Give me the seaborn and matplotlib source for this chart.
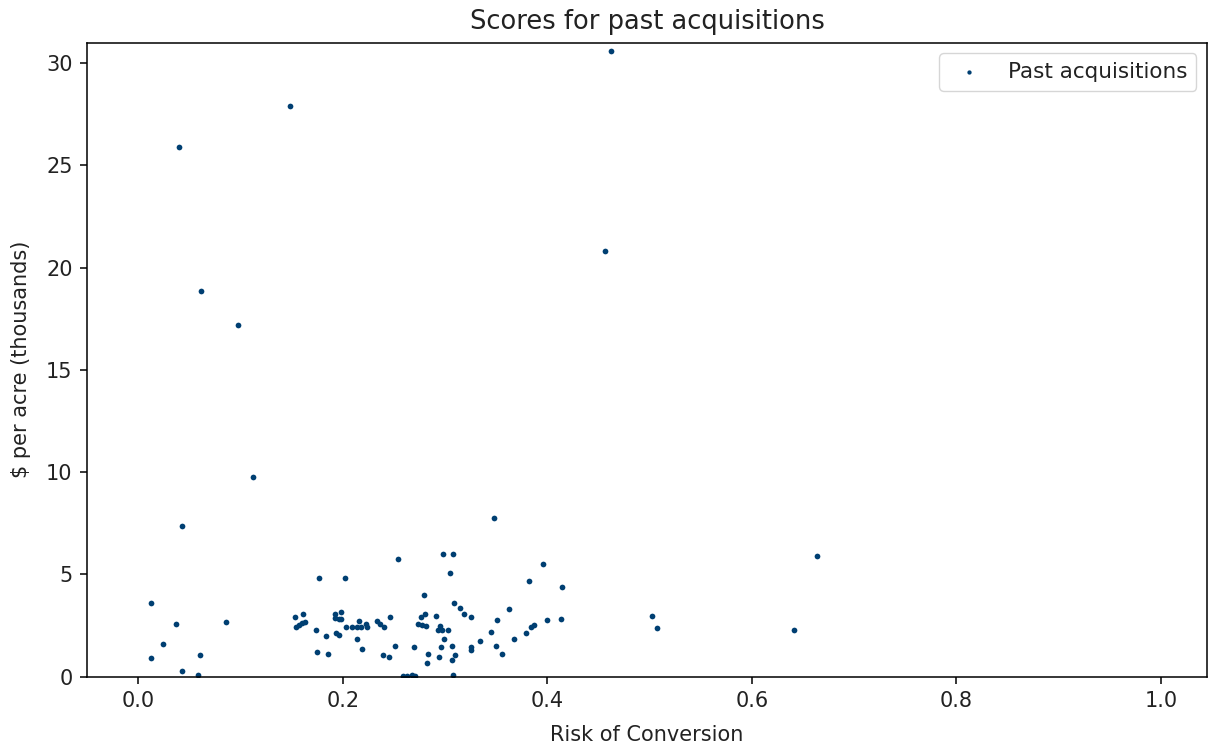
import matplotlib
matplotlib.use("Agg")
import matplotlib.pyplot as plt
import seaborn as sns
import pandas as pd

risk = [0.462, 0.148, 0.040, 0.456, 0.061, 0.098, 0.112, 0.043, 0.348, 0.664,
        0.254, 0.298, 0.308, 0.396, 0.305, 0.177, 0.202, 0.382, 0.414, 0.279,
        0.012, 0.309, 0.315, 0.363, 0.161, 0.192, 0.198, 0.319, 0.280, 0.153,
        0.276, 0.291, 0.246, 0.325, 0.192, 0.196, 0.198, 0.413, 0.233, 0.216,
        0.086, 0.163, 0.160, 0.037, 0.223, 0.274, 0.236, 0.157, 0.277, 0.387,
        0.351, 0.400, 0.281, 0.295, 0.154, 0.203, 0.209, 0.214, 0.218, 0.224,
        0.240, 0.384, 0.174, 0.293, 0.297, 0.303, 0.345, 0.379, 0.193, 0.196,
        0.184, 0.214, 0.299, 0.367, 0.334, 0.350, 0.307, 0.251, 0.270, 0.296,
        0.325, 0.219, 0.325, 0.024, 0.175, 0.186, 0.283, 0.356, 0.060, 0.239,
        0.310, 0.245, 0.294, 0.012, 0.307, 0.282, 0.043, 0.058, 0.263, 0.268,
        0.271, 0.259, 0.308, 0.502, 0.507, 0.641]

price_k = [30.60, 27.91, 25.91, 20.81, 18.87, 17.18, 9.77, 7.38, 7.77, 5.91,
           5.75, 5.99, 5.99, 5.52, 5.07, 4.84, 4.82, 4.68, 4.36, 3.99,
           3.60, 3.60, 3.36, 3.29, 3.06, 3.06, 3.16, 3.04, 3.06, 2.92,
           2.90, 2.98, 2.90, 2.90, 2.87, 2.82, 2.82, 2.83, 2.70, 2.72,
           2.67, 2.65, 2.60, 2.59, 2.59, 2.59, 2.57, 2.54, 2.54, 2.53,
           2.75, 2.75, 2.48, 2.49, 2.44, 2.44, 2.44, 2.44, 2.44, 2.44,
           2.44, 2.43, 2.28, 2.30, 2.30, 2.30, 2.20, 2.13, 2.13, 2.04,
           1.97, 1.84, 1.82, 1.82, 1.74, 1.51, 1.51, 1.51, 1.43, 1.43,
           1.43, 1.37, 1.28, 1.60, 1.19, 1.12, 1.12, 1.12, 1.06, 1.06,
           1.04, 0.98, 0.98, 0.89, 0.82, 0.67, 0.26, 0.06, 0.05, 0.08,
           0.05, 0.01, 0.06, 2.97, 2.36, 2.28]

series_label = "Past acquisitions"
title = "Scores for past acquisitions"
xlabel = "Risk of Conversion"
ylabel = "$ per acre (thousands)"

df = pd.DataFrame({"risk": risk, "price": price_k, "group": series_label})

plt.rcParams['font.family'] = ['DejaVu Sans']
plt.rcParams['text.color'] = '#222222'
plt.rcParams['axes.labelcolor'] = '#222222'
plt.rcParams['xtick.labelcolor'] = '#222222'
plt.rcParams['ytick.labelcolor'] = '#222222'
fig, ax = plt.subplots(figsize=(12.1, 7.46), dpi=100)
fig.subplots_adjust(left=0.072, right=0.9975, top=0.943, bottom=0.093)

sns.scatterplot(data=df, x="risk", y="price", ax=ax, color="#003f72",
                s=17, linewidth=0, label=series_label)

ax.set_xlim(-0.05, 1.045)
ax.set_ylim(0, 31)
ax.set_title(title, fontsize=18.5, pad=10)
ax.set_xlabel(xlabel, fontsize=15, labelpad=10)
ax.set_ylabel(ylabel, fontsize=15, labelpad=11)
ax.tick_params(labelsize=15, length=5, width=1.1, pad=5.5)
for sp in ax.spines.values():
    sp.set_linewidth(1.1)
ax.legend(loc="upper right", fontsize=15.5, markerscale=0.75)

fig.savefig("out.png", dpi=100)
